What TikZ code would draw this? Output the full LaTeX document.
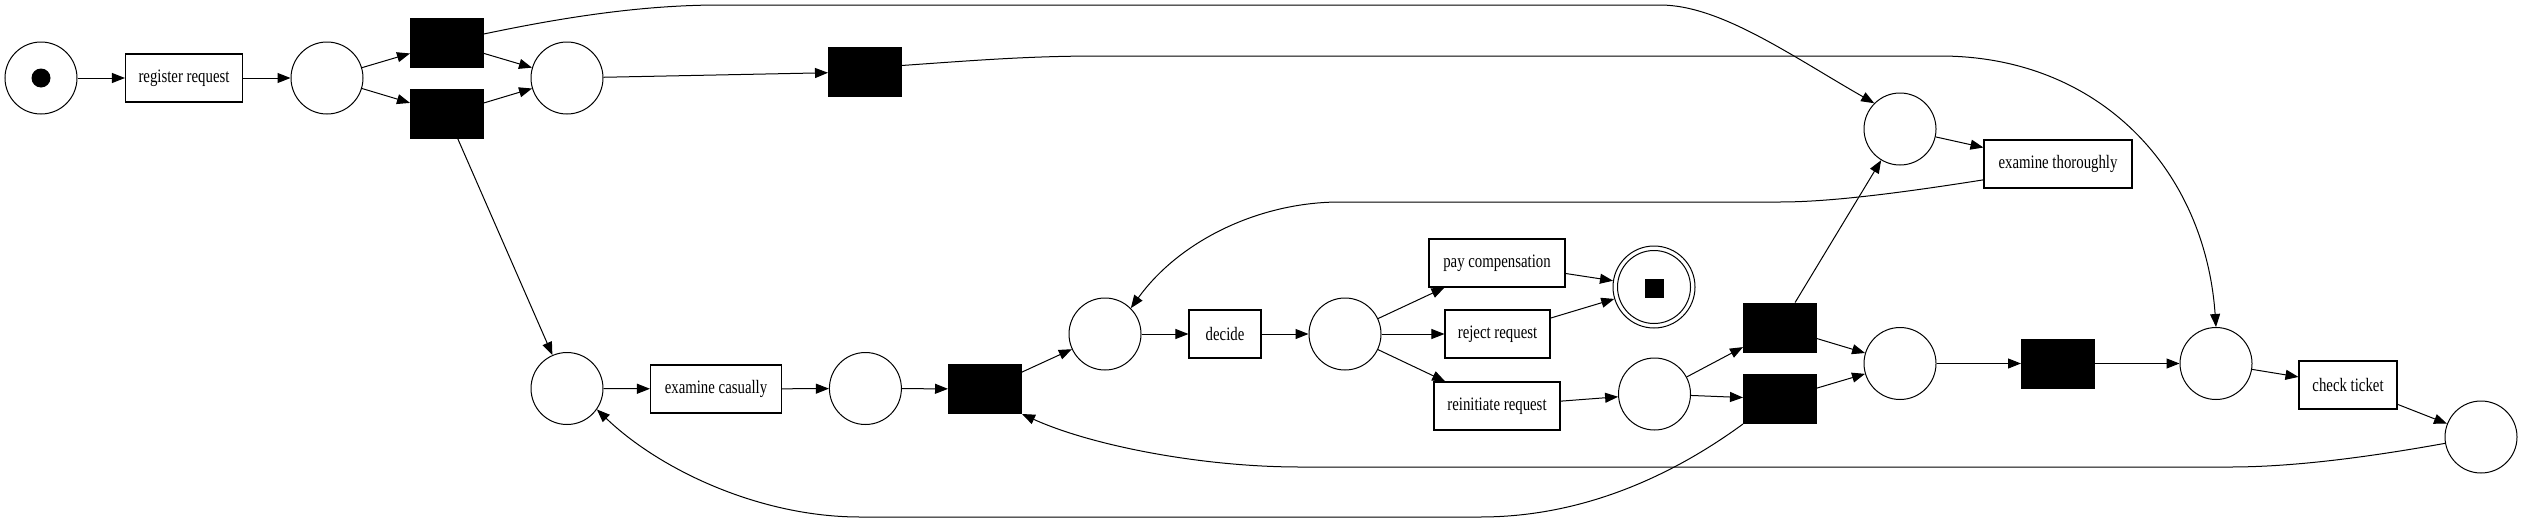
\documentclass[tikz,border=0pt]{standalone}
\usepackage{fontspec}
\setmainfont{Liberation Serif}[FakeStretch=0.78]
\usetikzlibrary{arrows.meta}
\tikzset{
  place/.style={circle, draw, line width=1pt, minimum size=72pt, inner sep=0pt},
  trans/.style={rectangle, draw, fill=black, line width=1pt, minimum width=73pt, minimum height=49pt, inner sep=0pt},
  act/.style={rectangle, draw, line width=1.1pt, minimum height=48pt, inner sep=0pt, font=\fontsize{19}{22}\selectfont},
  arr/.style={-{Triangle[length=13pt,width=10pt]}, line width=1pt},
  token/.style={fill=black, inner sep=0pt, minimum size=19pt}
}
\begin{document}
\begin{tikzpicture}[x=1pt,y=-1pt]
\useasboundingbox (0,0) rectangle (2523,525);
% places and transitions
\node[place] (start) at (41,78) {};
\node[token, circle] (tok) at (41,78) {};
\node[act, minimum width=117pt] (reg) at (184,78) {register request};
\node[place] (p1) at (327,78) {};
\node[trans] (t1) at (447,42.5) {};
\node[trans] (t2) at (447,114) {};
\node[place] (p2) at (567,78) {};
\node[trans] (t3) at (865,72) {};
\node[place] (p3) at (567,388.5) {};
\node[act, minimum width=131pt] (excas) at (716,389) {examine casually};
\node[place] (p4) at (865.4,388.5) {};
\node[trans] (t4) at (985,389) {};
\node[place] (p5) at (1105,334) {};
\node[act, minimum width=72pt] (decide) at (1225,334) {decide};
\node[place] (p6) at (1345,334) {};
\node[act, minimum width=136pt] (pay) at (1497,263) {pay compensation};
\node[act, minimum width=105pt] (rej) at (1497.5,334) {reject request};
\node[act, minimum width=126pt] (reini) at (1497,406) {reinitiate request};
\node[circle, draw, line width=1pt, minimum size=82pt, inner sep=0pt] (fin) at (1654,287) {};
\draw[line width=1pt] (fin.center) circle[radius=36.5pt];
\node[token, rectangle] (fintok) at (1654,288) {};
\node[place] (p7) at (1654.5,394) {};
\node[trans] (t5) at (1780,327.5) {};
\node[trans] (t6) at (1780,399) {};
\node[place] (p8) at (1900,129) {};
\node[act, minimum width=148pt] (exth) at (2058,164) {examine thoroughly};
\node[place] (p9) at (1900,363.5) {};
\node[trans] (t7) at (2058,363.5) {};
\node[place] (p10) at (2216,363.5) {};
\node[act, minimum width=98pt] (chk) at (2348,385) {check ticket};
\node[place] (p11) at (2481,437) {};
% straight arcs
\draw[arr] (start) -- (reg);
\draw[arr] (reg) -- (p1);
\draw[arr] (p1) -- (t1);
\draw[arr] (p1) -- (t2);
\draw[arr] (t1) -- (p2);
\draw[arr] (t2) -- (p2);
\draw[arr] (t2) -- (p3);
\draw[arr] (p2) -- (t3);
\draw[arr] (p3) -- (excas);
\draw[arr] (excas) -- (p4);
\draw[arr] (p4) -- (t4);
\draw[arr] (t4) -- (p5);
\draw[arr] (p5) -- (decide);
\draw[arr] (decide) -- (p6);
\draw[arr] (p6) -- (pay);
\draw[arr] (p6) -- (rej);
\draw[arr] (p6) -- (reini);
\draw[arr] (pay) -- (fin);
\draw[arr] (rej) -- (fin);
\draw[arr] (reini) -- (p7);
\draw[arr] (p7) -- (t5);
\draw[arr] (p7) -- (t6);
\draw[arr] (t5) -- (p9);
\draw[arr] (t6) -- (p9);
\draw[arr] (t5) -- (p8);
\draw[arr] (p8) -- (exth);
\draw[arr] (p9) -- (t7);
\draw[arr] (t7) -- (p10);
\draw[arr] (p10) -- (chk);
\draw[arr] (chk) -- (p11);
% curved arcs
\draw[arr] (t1.13) .. controls (560,18) and (640,5) .. (720,5) -- (1660,5)
   .. controls (1720,5) and (1790,55) .. (p8.135);
\draw[arr] (t3.10) .. controls (980,60) and (1030,56) .. (1100,56) -- (1940,56)
   .. controls (2100,56) and (2205,170) .. (p10.north);
\draw[arr] (exth.192) .. controls (1900,193) and (1830,202) .. (1780,202) -- (1340,202)
   .. controls (1260,202) and (1180,240) .. (p5.45);
\draw[arr] (p11.190) .. controls (2380,455) and (2300,467) .. (2230,467) -- (1300,467)
   .. controls (1200,467) and (1090,445) .. (t4.south east);
\draw[arr] (t6.south west) .. controls (1680,470) and (1590,517) .. (1480,517) -- (860,517)
   .. controls (760,517) and (660,470) .. (p3.-35);
\end{tikzpicture}
\end{document}
